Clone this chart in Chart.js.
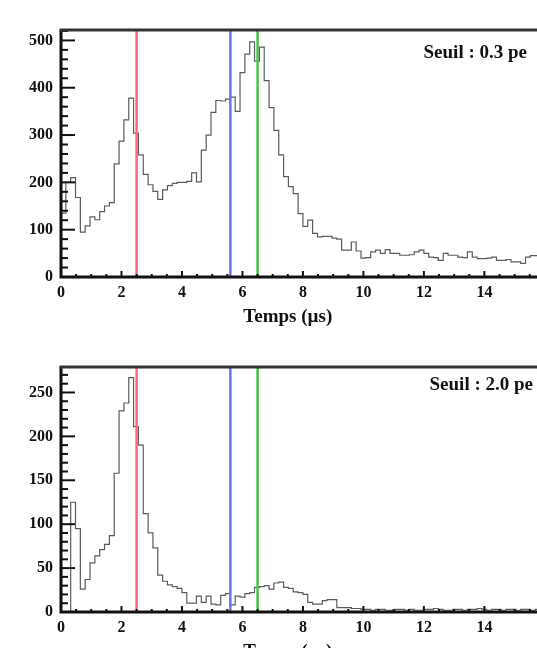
<!DOCTYPE html>
<html>
<head>
<meta charset="utf-8">
<script src="https://cdn.jsdelivr.net/npm/chart.js@4.4.1/dist/chart.umd.min.js"></script>
<style>
  html, body { margin: 0; padding: 0; background: #fff; width: 537px; height: 648px; overflow: hidden; }
  canvas { position: absolute; left: 0; }
  #top-chart { top: 0; }
  #bottom-chart { top: 340px; }
</style>
</head>
<body>
<canvas id="top-chart" width="537" height="340"></canvas>
<canvas id="bottom-chart" width="537" height="340"></canvas>
<script>
// histogram: 100 bins of 0.16 us between 0 and 16 us
var binWidth = 0.16;

// threshold 0.3 pe
var topCounts = [
  240, 135, 200, 210, 168, 95, 108, 127, 121, 138,
  150, 157, 239, 287, 332, 378, 304, 258, 217, 195,
  181, 164, 184, 193, 198, 200, 200, 202, 220, 201,
  268, 300, 348, 373, 372, 376, 380, 350, 432, 471,
  497, 456, 486, 415, 358, 310, 258, 212, 191, 176,
  134, 107, 120, 92, 85, 86, 86, 82, 80, 57,
  57, 74, 55, 40, 41, 53, 57, 50, 58, 50,
  50, 46, 46, 47, 53, 57, 50, 42, 41, 35,
  50, 46, 46, 42, 41, 53, 42, 39, 39, 40,
  42, 35, 35, 37, 32, 32, 29, 42, 45, 45
];

// threshold 2.0 pe
var bottomCounts = [
  0, 0, 0, 125, 95, 26, 37, 56, 64, 71,
  77, 87, 158, 229, 238, 267, 211, 190, 112, 90,
  73, 42, 35, 31, 29, 27, 22, 10, 10, 18,
  11, 18, 9, 8, 19, 21, 8, 18, 17, 21,
  22, 28, 29, 30, 26, 33, 34, 28, 27, 23,
  22, 20, 11, 9, 9, 13, 14, 14, 5, 5,
  5, 4, 4, 3, 3, 2, 3, 3, 2, 2,
  3, 3, 2, 3, 2, 2, 3, 3, 4, 3,
  2, 2, 3, 3, 2, 3, 3, 4, 3, 2,
  3, 3, 2, 3, 3, 2, 3, 3, 2, 3
];

var xTicks = [0, 2, 4, 6, 8, 10, 12, 14];
var topYTicks = [0, 100, 200, 300, 400, 500];
var bottomYTicks = [0, 50, 100, 150, 200, 250];

var markerTimes = [2.5, 5.6, 6.5];
var markerColors = ['#ff6b6b', '#6f6fff', '#4cbf4c'];

var axisTitle = 'Temps (µs)';
var topLabel = 'Seuil : 0.3 pe';
var bottomLabel = 'Seuil : 2.0 pe';

var serif = '"Liberation Serif", "Times New Roman", serif';

function histPoints(counts) {
  var pts = [];
  for (var i = 0; i < counts.length; i++) {
    pts.push({ x: i * binWidth, y: counts[i] });
  }
  pts.push({ x: counts.length * binWidth, y: counts[counts.length - 1] });
  return pts;
}

// markers, inward ticks, frame and texts
var histFrame = {
  id: 'histFrame',
  afterDatasetsDraw: function (chart, args, opts) {
    var ctx = chart.ctx;
    var a = chart.chartArea;
    var xs = chart.scales.x;
    var ys = chart.scales.y;
    var v, p, len;
    ctx.save();

    for (var i = 0; i < markerTimes.length; i++) {
      var mx = xs.getPixelForValue(markerTimes[i]);
      ctx.strokeStyle = markerColors[i];
      ctx.lineWidth = 2.5;
      ctx.beginPath();
      ctx.moveTo(mx, a.top);
      ctx.lineTo(mx, a.bottom);
      ctx.stroke();
    }

    ctx.strokeStyle = '#111';
    ctx.lineWidth = 2;
    for (v = 0; v <= ys.max; v += opts.yMinor) {
      p = ys.getPixelForValue(v);
      len = (v % opts.yMajor === 0) ? 14 : 7;
      ctx.beginPath();
      ctx.moveTo(a.left, p);
      ctx.lineTo(a.left + len, p);
      ctx.stroke();
    }
    for (v = 0; v <= xs.max; v += 0.5) {
      p = xs.getPixelForValue(v);
      len = (v % 2 === 0) ? 6 : 3;
      ctx.beginPath();
      ctx.moveTo(p, a.bottom);
      ctx.lineTo(p, a.bottom - len);
      ctx.stroke();
    }

    ctx.lineWidth = 3;
    ctx.beginPath();
    ctx.moveTo(a.left, a.top);
    ctx.lineTo(a.left, a.bottom + 1.5);
    ctx.moveTo(a.left - 1.5, a.bottom);
    ctx.lineTo(a.right, a.bottom);
    ctx.stroke();
    ctx.strokeStyle = '#333';
    ctx.beginPath();
    ctx.moveTo(a.left - 1.5, a.top);
    ctx.lineTo(a.right, a.top);
    ctx.stroke();

    ctx.fillStyle = '#111';
    ctx.font = 'bold 19px ' + serif;
    ctx.textBaseline = 'middle';
    ctx.textAlign = 'right';
    ctx.fillText(opts.label, a.right - opts.labelRight, a.top + opts.labelTop);
    ctx.textAlign = 'center';
    ctx.fillText(axisTitle, xs.getPixelForValue(7.5), a.bottom + 40);
    ctx.restore();
  }
};

function makePanel(id, counts, yMax, yTicks, yMajor, yMinor, label, labelTop, labelRight, areaTop, areaBottom) {
  var canvas = document.getElementById(id);
  var tickFont = { family: serif, size: 16, weight: 'bold' };
  return new Chart(canvas.getContext('2d'), {
    type: 'line',
    data: {
      datasets: [{
        data: histPoints(counts),
        stepped: 'after',
        borderColor: '#5c5c5c',
        borderWidth: 1.2,
        pointRadius: 0,
        fill: false
      }]
    },
    options: {
      responsive: false,
      animation: false,
      layout: { padding: { top: areaTop, left: 0, right: 0, bottom: 0 } },
      plugins: {
        legend: { display: false },
        tooltip: { enabled: false },
        histFrame: { label: label, labelTop: labelTop, labelRight: labelRight, yMajor: yMajor, yMinor: yMinor }
      },
      scales: {
        x: {
          type: 'linear',
          min: 0,
          max: 15.74,
          grid: { display: false, drawTicks: false },
          border: { display: false },
          afterFit: function (s) { s.height = canvas.height - areaBottom; },
          afterBuildTicks: function (s) {
            s.ticks = xTicks.map(function (t) { return { value: t }; });
          },
          ticks: { padding: 6, maxRotation: 0, autoSkip: false, color: '#111', font: tickFont }
        },
        y: {
          min: 0,
          max: yMax,
          grid: { display: false, drawTicks: false },
          border: { display: false },
          afterFit: function (s) { s.width = 61; },
          afterBuildTicks: function (s) {
            s.ticks = yTicks.map(function (t) { return { value: t }; });
          },
          ticks: { padding: 8, autoSkip: false, color: '#111', font: tickFont }
        }
      }
    },
    plugins: [histFrame]
  });
}

makePanel('top-chart', topCounts, 522, topYTicks, 100, 20, topLabel, 23, 10, 30, 277);
makePanel('bottom-chart', bottomCounts, 279, bottomYTicks, 50, 10, bottomLabel, 18, 4, 27, 272);
</script>
</body>
</html>
